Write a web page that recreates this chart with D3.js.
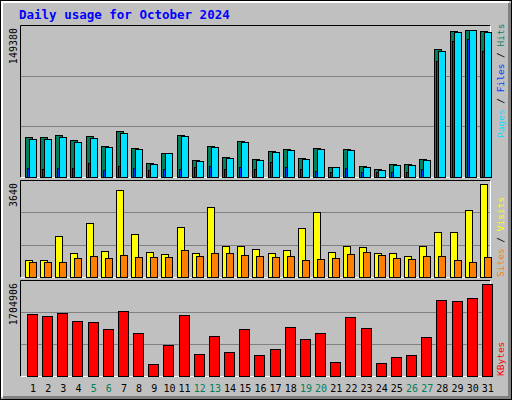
<!DOCTYPE html>
<html><head><meta charset="utf-8">
<script src="https://cdn.jsdelivr.net/npm/d3@7"></script>
<style>body{margin:0;background:#fff}text{font-family:"DejaVu Sans Mono",monospace}</style>
</head><body><svg width="512" height="400"></svg>
<script>
var days = d3.range(1, 32);
var weekends = [5, 6, 12, 13, 19, 20, 26, 27];
var hits = [40370,40370,42390,37340,41380,31290,46430,29270,14130,24220,42390,17160,31290,20180,36330,18170,26240,28260,19170,29270,10090,28260,11100,8070,13120,13120,18170,130200,148370,149380,148370];
var pages = [38360,38360,40370,35320,39360,30280,44410,28260,13120,24020,41380,16150,30280,19170,35320,17160,25230,27250,18170,28260,9890,27250,10090,7060,12110,12110,17160,128190,147360,149180,147360];
var files = [9080,8070,9080,9080,14130,7060,11100,9080,7060,8070,8070,10090,11100,8070,10090,8070,15140,10090,8070,6050,5050,9080,5050,5050,5050,5050,8070,118060,138230,140250,128140];
var visits = [673,646,1622,950,2097,1029,3415,1701,989,910,1939,950,2730,1227,1227,1108,950,1068,1899,2532,989,1227,1160,950,950,831,1227,1780,1780,2611,3640];
var sites = [594,594,594,752,831,752,871,791,791,791,1068,831,950,950,871,831,791,831,673,712,752,910,989,871,752,712,831,831,673,594,791];
var kbytes = [1147100,1109900,1165700,1017000,998400,868200,1202900,793900,217500,570800,1128500,403400,738100,440600,868200,384900,496400,905400,682300,793900,254700,1091300,886800,236100,347700,384900,719500,1407400,1388800,1444600,1704906];
var maxLabels = ["149380", "3640", "1704906"];

var svg = d3.select('svg');
var x = d3.scaleLinear().domain([0, 31]).range([20, 490]);

svg.append('rect').attr('x', 0.5).attr('y', 0.5).attr('width', 511).attr('height', 399)
  .attr('fill', '#c0c0c0').attr('stroke', '#000');
// 3d edge
svg.append('path').attr('d', 'M2,397V2H509').attr('fill', 'none').attr('stroke', '#fff').attr('stroke-width', 2);
svg.append('path').attr('d', 'M3,397.5H509.5V3').attr('fill', 'none').attr('stroke', '#808080').attr('stroke-width', 3);

svg.append('text').attr('x', 19).attr('y', 19).attr('fill', '#0000ff')
  .style('font-weight', 'bold').style('font-size', '12.5px').text('Daily usage for October 2024');

var panels = [
  {top: 25, bottom: 177, maxY: 30, max: 149380, label: maxLabels[0]},
  {top: 180, bottom: 277, maxY: 184, max: 3640, label: maxLabels[1]},
  {top: 280, bottom: 376, maxY: 284, max: 1704906, label: maxLabels[2]}
];
panels.forEach(function(p) {
  p.y = d3.scaleLinear().domain([0, p.max]).range([p.bottom, p.maxY]);
  var h = p.bottom - p.top;
  [1, 2].forEach(function(k) {
    var gy = Math.round(p.bottom - h * k / 3) + 0.5;
    svg.append('line').attr('x1', 20).attr('x2', 490).attr('y1', gy).attr('y2', gy)
      .attr('stroke', '#808080');
  });
  svg.append('path').attr('d', 'M20.5,' + (p.bottom + 0.5) + 'V' + (p.top + 0.5) + 'H490.5')
    .attr('fill', 'none').attr('stroke', '#000');
  svg.append('path').attr('d', 'M20.5,' + (p.bottom + 0.5) + 'H490.5V' + (p.top + 0.5))
    .attr('fill', 'none').attr('stroke', '#fff');
  svg.append('text').attr('transform', 'translate(17,' + (p.top + 3) + ') rotate(-90)')
    .style('text-anchor', 'end').style('font-size', '10px').text(p.label);
});

function bars(data, panel, off, w, color) {
  svg.append('g').selectAll('rect').data(data).enter().append('rect')
    .attr('x', function(d, i) { return Math.round(x(i)) + off + 0.5; })
    .attr('y', function(d) { return Math.round(panel.y(d)) + 0.5; })
    .attr('width', w)
    .attr('height', function(d) { return panel.bottom - Math.round(panel.y(d)); })
    .attr('fill', color).attr('stroke', '#000');
}
bars(hits, panels[0], 5, 7, '#00805c');
bars(files, panels[0], 7, 3, '#0040ff');
bars(pages, panels[0], 9, 7, '#00e0ff');
bars(visits, panels[1], 5, 7, '#ffff00');
bars(sites, panels[1], 9, 7, '#ff8000');
bars(kbytes, panels[2], 7, 10, '#ff0000');

svg.append('g').selectAll('text').data(days).enter().append('text')
  .attr('x', function(d, i) { return x(i) + 13; })
  .attr('y', 392)
  .style('text-anchor', 'middle').style('font-size', '10px')
  .attr('fill', function(d) { return weekends.indexOf(d) >= 0 ? '#00805c' : '#000'; })
  .text(function(d) { return d; });

function legend(y, parts) {
  var t = svg.append('text').attr('transform', 'translate(504,' + y + ') rotate(-90)')
    .style('font-size', '9.5px');
  parts.forEach(function(p) { t.append('tspan').attr('fill', p[1]).text(p[0]); });
}
legend(138, [['Pages', '#00e0ff'], [' / ', '#000'], ['Files', '#0040ff'], [' / ', '#000'], ['Hits', '#00805c']]);
legend(277, [['Sites', '#ff8000'], [' / ', '#000'], ['Visits', '#ffff00']]);
legend(376, [['KBytes', '#ff0000']]);
</script></body></html>
